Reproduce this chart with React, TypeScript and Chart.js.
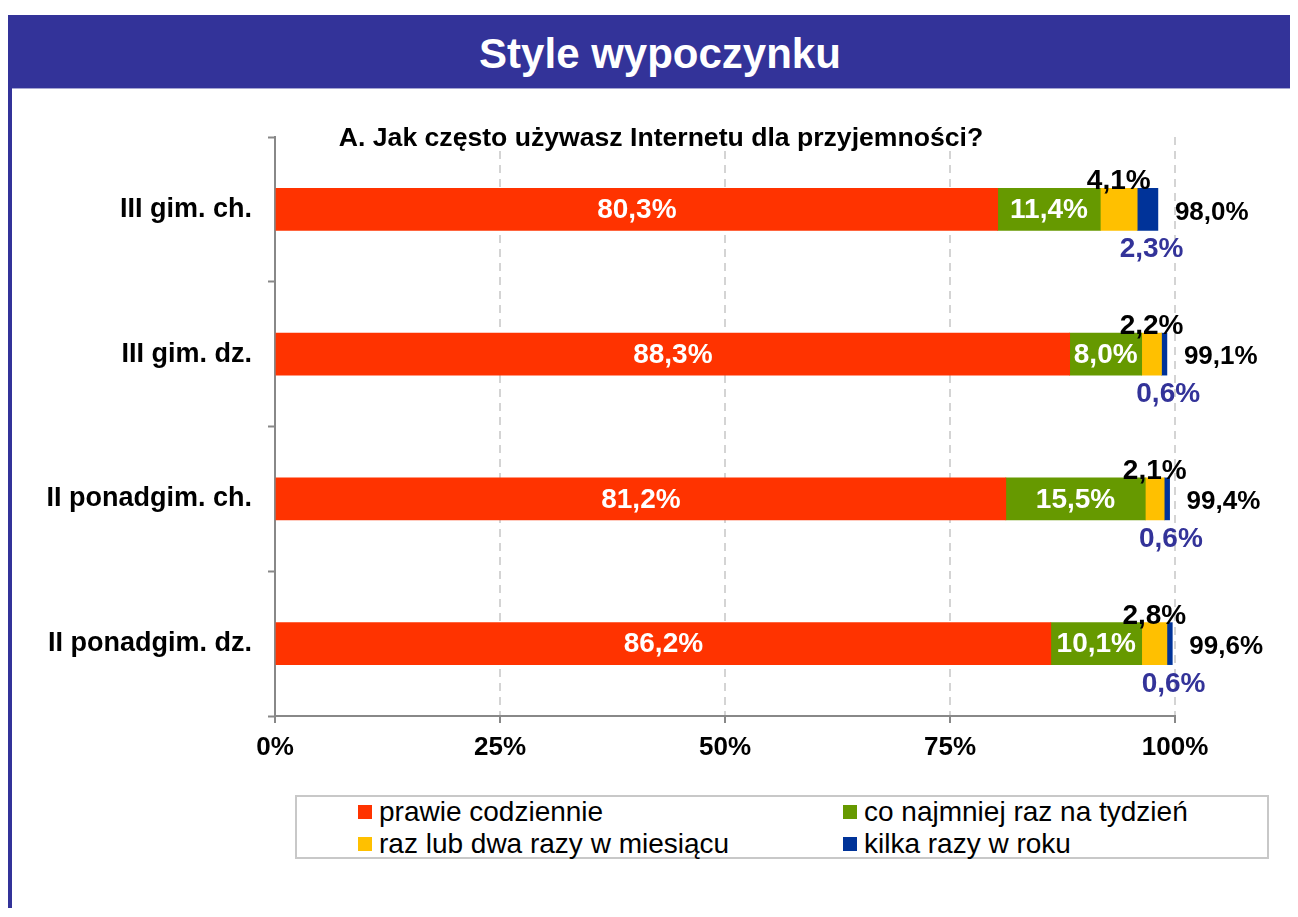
import React, { useEffect, useRef, useState } from 'react';
import { Chart, registerables } from 'chart.js';

Chart.register(...registerables);

const mainTitle = 'Style wypoczynku';
const subTitle = 'A. Jak często używasz Internetu dla przyjemności?';
const categories = ['III gim. ch.', 'III gim. dz.', 'II ponadgim. ch.', 'II ponadgim. dz.'];
const seriesNames = ['prawie codziennie', 'co najmniej raz na tydzień', 'raz lub dwa razy w miesiącu', 'kilka razy w roku'];
const seriesColors = ['#FF3300', '#669900', '#FFC000', '#003399'];
const daily = [80.3, 88.3, 81.2, 86.2];
const weekly = [11.4, 8.0, 15.5, 10.1];
const monthly = [4.1, 2.2, 2.1, 2.8];
const yearly = [2.3, 0.6, 0.6, 0.6];
const totals = [98.0, 99.1, 99.4, 99.6];
const xTicks = [0, 25, 50, 75, 100];

const FONT = "'Liberation Sans', Arial, Helvetica, sans-serif";
const fmt = (v: number) => v.toFixed(1).replace('.', ',') + '%';

const labelPlugin = {
  id: 'segLabels',
  afterDatasetsDraw(chart: any) {
    const ctx = chart.ctx;
    ctx.save();
    chart.data.datasets.forEach((ds: any, di: number) => {
      const meta = chart.getDatasetMeta(di);
      meta.data.forEach((el: any, i: number) => {
        const { x, base, y, height } = el.getProps(['x', 'base', 'y', 'height'], true);
        const cx = (x + base) / 2;
        const txt = fmt(ds.data[i]);
        ctx.textAlign = 'center';
        ctx.font = `bold 28px ${FONT}`;
        if (di < 2) {
          ctx.fillStyle = '#FFFFFF';
          ctx.textBaseline = 'middle';
          ctx.fillText(txt, cx, y + 1);
        } else if (di === 2) {
          ctx.fillStyle = '#000000';
          ctx.textBaseline = 'alphabetic';
          ctx.fillText(txt, cx, y - height / 2 + 1);
        } else {
          ctx.fillStyle = '#333399';
          ctx.textBaseline = 'alphabetic';
          ctx.fillText(txt, cx + 4, y + height / 2 + 27);
        }
      });
    });
    const last = chart.getDatasetMeta(chart.data.datasets.length - 1);
    last.data.forEach((el: any, i: number) => {
      const { x, y } = el.getProps(['x', 'y'], true);
      ctx.font = `bold 26px ${FONT}`;
      ctx.fillStyle = '#000000';
      ctx.textAlign = 'left';
      ctx.textBaseline = 'middle';
      ctx.fillText(fmt(totals[i]), x + 17, y + 3);
    });
    ctx.restore();
  },
};

export default function App() {
  const canvasRef = useRef<HTMLCanvasElement | null>(null);
  const [err, setErr] = useState('');

  useEffect(() => {
    const canvas = canvasRef.current;
    if (!canvas) return;
    let chart: any = null;
    try {
      const seriesData = [daily, weekly, monthly, yearly];
      chart = new Chart(canvas, {
        type: 'bar',
        data: {
          labels: categories,
          datasets: seriesData.map((d, i) => ({
            label: seriesNames[i],
            data: d,
            backgroundColor: seriesColors[i],
            borderWidth: 0,
            barThickness: 42,
          })),
        },
        options: {
          indexAxis: 'y',
          responsive: false,
          animation: false,
          devicePixelRatio: 1,
          font: { family: FONT },
          layout: { padding: { top: 42, right: 123, bottom: 0, left: 0 } },
          plugins: {
            legend: { display: false },
            title: { display: false },
            tooltip: { enabled: false },
          },
          scales: {
            x: {
              type: 'linear',
              stacked: true,
              min: 0,
              max: 100,
              afterBuildTicks: (s: any) => {
                s.ticks = xTicks.map((v) => ({ value: v }));
              },
              afterFit: (s: any) => {
                s.height = 59;
              },
              ticks: {
                callback: (v: any) => v + '%',
                font: { family: FONT, size: 26, weight: 'bold' },
                color: '#000000',
                padding: 9,
                maxRotation: 0,
              },
              grid: {
                color: (c: any) => (c.tick && c.tick.value === 0 ? 'rgba(0,0,0,0)' : '#D4D4D4'),
                lineWidth: 2,
                drawTicks: true,
                tickLength: 7,
                tickColor: '#888888',
                tickWidth: 2,
              },
              border: { display: true, color: '#888888', width: 2, dash: [8, 6] },
            },
            y: {
              type: 'category',
              stacked: true,
              afterFit: (s: any) => {
                s.width = 263;
              },
              ticks: {
                font: { family: FONT, size: 27, weight: 'bold' },
                color: '#000000',
                padding: 16,
              },
              grid: {
                offset: true,
                drawOnChartArea: false,
                drawTicks: true,
                tickLength: 7,
                tickColor: '#888888',
                tickWidth: 2,
                color: '#888888',
              },
              border: { display: true, color: '#888888', width: 2 },
            },
          },
        },
        plugins: [labelPlugin],
      } as any);
    } catch (e: any) {
      setErr(String(e && e.stack ? e.stack : e));
    }
    return () => {
      if (chart) chart.destroy();
    };
  }, []);

  return (
    <div style={{ position: 'relative', width: 1282, height: 900, fontFamily: FONT }}>
      <div
        style={{
          position: 'absolute',
          left: 0,
          top: 7,
          width: 1290,
          height: 74,
          background: '#333399',
          borderBottom: '1px solid #A6A6D2',
          color: '#FFFFFF',
          fontWeight: 'bold',
          fontSize: 42,
          lineHeight: '78px',
          textAlign: 'center',
          paddingLeft: 14,
          boxSizing: 'border-box',
        }}
      >
        {mainTitle}
      </div>
      <div
        style={{
          position: 'absolute',
          left: 0,
          top: 53,
          width: 4,
          height: 856,
          background: '#333399',
        }}
      />
      <canvas
        ref={canvasRef}
        width={1286}
        height={680}
        style={{ position: 'absolute', left: 4, top: 87, width: 1286, height: 680, display: 'block' }}
      />
      <div
        style={{
          position: 'absolute',
          left: 653,
          top: 116,
          transform: 'translateX(-50%)',
          whiteSpace: 'nowrap',
          background: '#FFFFFF',
          fontWeight: 'bold',
          fontSize: 26.6,
          lineHeight: '27px',
          color: '#000000',
        }}
      >
        {subTitle}
      </div>
      <div
        style={{
          position: 'absolute',
          left: 287,
          top: 787,
          width: 974,
          height: 64,
          border: '2px solid #C8C8C8',
          boxSizing: 'border-box',
          display: 'grid',
          gridTemplateColumns: '485px 420px',
          gridTemplateRows: '30px 30px',
          rowGap: 2,
          paddingLeft: 61,
          fontSize: 28,
          color: '#000000',
        }}
      >
        {[0, 1, 2, 3].map((i) => (
          <div key={i} style={{ display: 'flex', alignItems: 'center', whiteSpace: 'nowrap', lineHeight: '30px' }}>
            <span
              style={{
                display: 'inline-block',
                width: 14,
                height: 14,
                background: seriesColors[i],
                marginRight: 7,
                flex: '0 0 auto',
              }}
            />
            <span>{seriesNames[i]}</span>
          </div>
        ))}
      </div>
      {err ? (
        <pre style={{ position: 'absolute', left: 20, top: 200, fontSize: 12, color: 'red', whiteSpace: 'pre-wrap', width: 1200 }}>{err}</pre>
      ) : null}
    </div>
  );
}
